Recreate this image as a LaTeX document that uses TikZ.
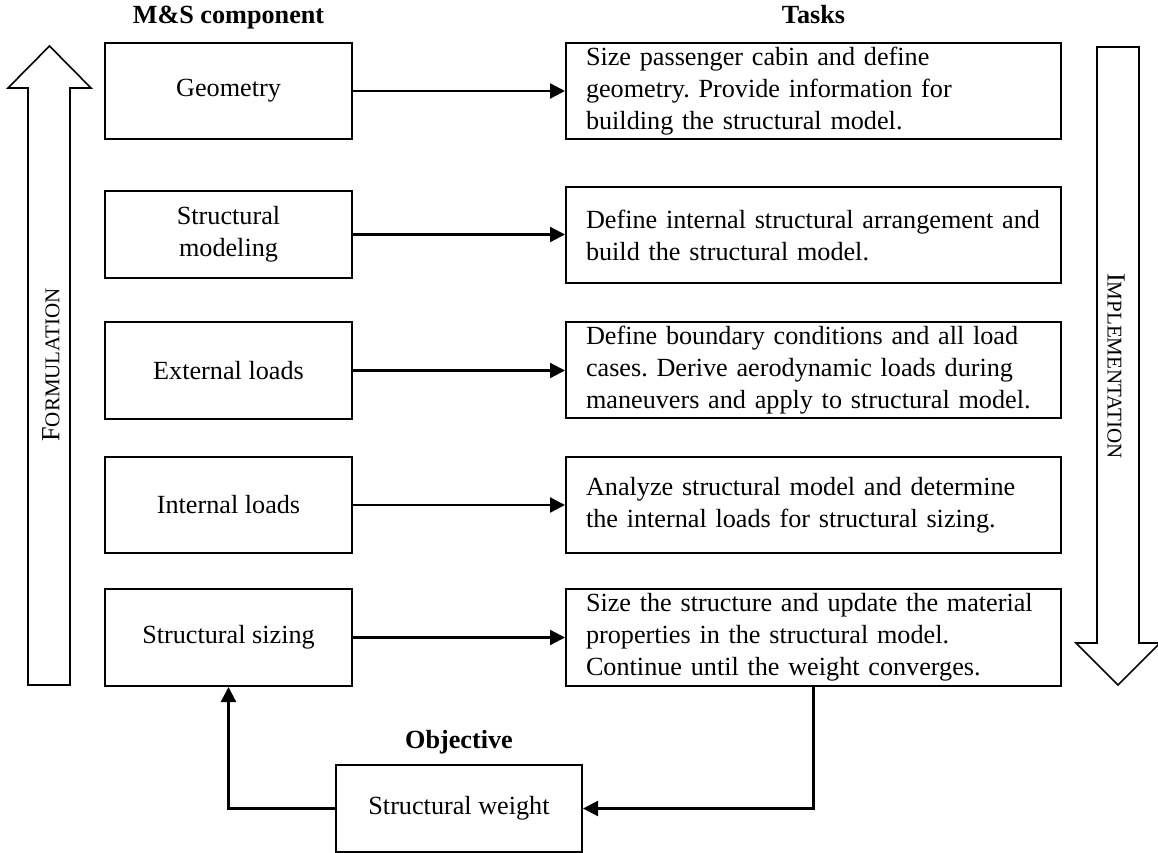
\documentclass[tikz,border=0pt]{standalone}
\usepackage{fontspec}
\setmainfont{Liberation Serif}
\usetikzlibrary{arrows.meta}
\newcommand{\mainfs}{\fontsize{26.2}{32}\selectfont\frenchspacing}
\newcommand{\scfs}{\fontsize{21}{24}\selectfont}
\tikzset{
  comp/.style={draw, line width=2pt, minimum width=247pt, inner sep=0pt, align=center},
  task/.style={draw, line width=2pt, minimum width=495pt, text width=455pt, inner xsep=20pt, inner ysep=0pt, align=left},
  conn/.style={line width=2.2pt, -{Triangle[length=15pt,width=15pt]}},
  head/.style={anchor=base, font=\mainfs\bfseries},
  bigarrow/.style={draw, line width=1.6pt, line join=miter, fill=white},
  every node/.append style={font=\mainfs},
}
\begin{document}
\begin{tikzpicture}[x=1pt, y=-1pt]
\useasboundingbox (0,0) rectangle (1158,853);
\clip (0,0) rectangle (1158,853);

% big arrows
\draw[bigarrow] (28,685) -- (28,88) -- (8,88) -- (49.5,46) -- (91,88) -- (70,88) -- (70,685) -- cycle;
\draw[bigarrow] (1097,47) -- (1139,47) -- (1139,643) -- (1160,643) -- (1118,685) -- (1076,643) -- (1097,643) -- cycle;
\node[rotate=90] (form) at (51,365) {F\scfs ORMULATION};
\node[rotate=-90] (impl) at (1116,366) {I\scfs MPLEMENTATION};

% headings
\node[head] (mshead) at (228.5,24) {M\&S component};
\node[head] (taskhead) at (813.5,24) {Tasks};
\node[head] (objhead) at (459,748) {Objective};

% component boxes
\node[comp, minimum height=96pt] (g1) at (228.5,91) {Geometry};
\node[comp, minimum height=87pt] (g2) at (228.5,234.5) {Structural\\modeling};
\node[comp, minimum height=97pt] (g3) at (228.5,370.5) {External loads};
\node[comp, minimum height=96pt] (g4) at (228.5,505) {Internal loads};
\node[comp, minimum height=97pt] (g5) at (228.5,637.5) {Structural sizing};

% task boxes
\node[task, minimum height=96pt] (t1) at (813.5,91) {Size passenger cabin and define\\geometry. Provide information for\\building the structural model.};
\node[task, minimum height=96pt] (t2) at (813.5,235) {\mbox{Define internal structural arrangement and}\\build the structural model.};
\node[task, minimum height=96pt] (t3) at (813.5,370) {\mbox{Define boundary conditions and all load}\\\mbox{cases. Derive aerodynamic loads during}\\\mbox{maneuvers and apply to structural model.}};
\node[task, minimum height=96pt] (t4) at (813.5,505) {Analyze structural model and determine\\the internal loads for structural sizing.};
\node[task, minimum height=97pt] (t5) at (813.5,637.5) {\mbox{Size the structure and update the material}\\properties in the structural model.\\Continue until the weight converges.};

% objective box
\node[comp, minimum width=246pt, minimum height=87pt] (sw) at (459,808.5) {Structural weight};

% connectors
\draw[conn] (g1.east) -- (t1.west);
\draw[conn] (g2.east) -- (g2.east -| t2.west);
\draw[conn] (g3.east) -- (g3.east -| t3.west);
\draw[conn] (g4.east) -- (t4.west);
\draw[conn] (g5.east) -- (t5.west);
\draw[conn] (t5.south) |- (sw.east);
\draw[conn] (sw.west) -| (g5.south);
\end{tikzpicture}
\end{document}
